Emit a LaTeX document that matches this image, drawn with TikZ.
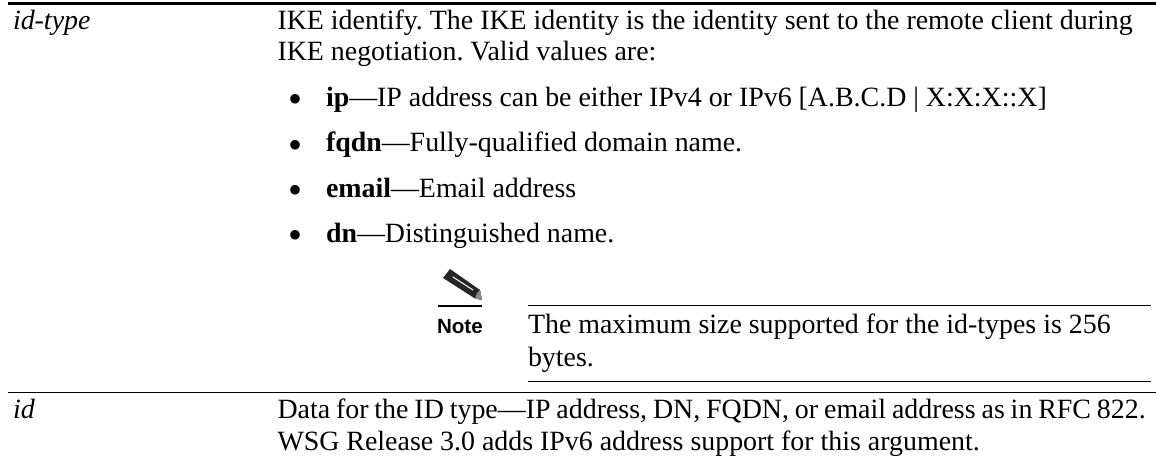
\documentclass[tikz,border=0pt]{standalone}
\usepackage{fontspec}
\setmainfont{Liberation Serif}
\newfontfamily\notefont{Liberation Sans}
\frenchspacing
\begin{document}
\begin{tikzpicture}[x=1pt,y=-1pt,
 txt/.style={anchor=base west,inner sep=0pt,outer sep=0pt,font=\fontsize{27.9}{33}\selectfont},
 bulletmark/.style={anchor=base west,inner sep=0pt,outer sep=0pt,font=\fontsize{40}{44}\selectfont},
 notelabel/.style={anchor=base west,inner sep=0pt,outer sep=0pt,font=\notefont\bfseries\fontsize{20.6}{24}\selectfont},
 thickrule/.style={line width=3pt,black},
 thinrule/.style={line width=1.2pt,black}]
\useasboundingbox (0,0) rectangle (1156,458);
\fill[white] (0,0) rectangle (1156,458);
\coordinate (t1) at (7.5,3.3); \coordinate (t2) at (1156,3.3);
\coordinate (m1) at (7.5,392.3); \coordinate (m2) at (1156,392.3);
\coordinate (n1) at (528,305.3); \coordinate (n2) at (1151,305.3);
\coordinate (b1) at (528,381.3); \coordinate (b2) at (1151,381.3);
\coordinate (i1) at (438,306); \coordinate (i2) at (482,306);
\draw[thickrule] (t1) -- (t2);
\draw[thinrule] (m1) -- (m2);
\draw[thinrule] (n1) -- (n2);
\draw[thinrule] (b1) -- (b2);
\draw[line width=1.2pt] (i1) -- (i2);
\node[txt] (a) at (13,29) {\itshape id-type};
\node[txt] (b) at (277.5,29) {IKE identify. The IKE identity is the identity sent to the remote client during};
\node[txt] (c) at (277.5,60.5) {IKE negotiation. Valid values are:};
\foreach \y/\c/\n/\t in {106/112.5/ip/{IP address can be either IPv4 or IPv6 [A.B.C.D | X:X:X::X]},151.5/158/fqdn/{Fully-qualified domain name.},197/203.5/email/{Email address},242/248.5/dn/{Distinguished name.}}{
 \node[bulletmark] (bul\n) at (288,\c) {\textbullet};
 \node[txt] (it\n) at (326,\y) {\textbf{\n}---\t};
}
\fill[black!85] (450,269) -- (443,278) -- (475,298.5) -- (482,300) -- (480,290) -- cycle;
\draw[white,line width=1pt] (453,277) -- (473,290);
\fill[black!45] (475,298.5) -- (482,300) -- (480,290) -- (477,293) -- cycle;
\node[notelabel] (note) at (437,333) {Note};
\node[txt] (n) at (528,333) {The maximum size supported for the id-types is 256};
\node[txt] (n3) at (528,366) {bytes.};
\node[txt] (d) at (13,418) {\itshape id};
\node[txt] (e) at (277.5,418) {\spaceskip=5.9pt Data for the ID type---IP address, DN, FQDN, or email address as in RFC 822.};
\node[txt] (f) at (277.5,450) {WSG Release 3.0 adds IPv6 address support for this argument.};
\end{tikzpicture}
\end{document}
